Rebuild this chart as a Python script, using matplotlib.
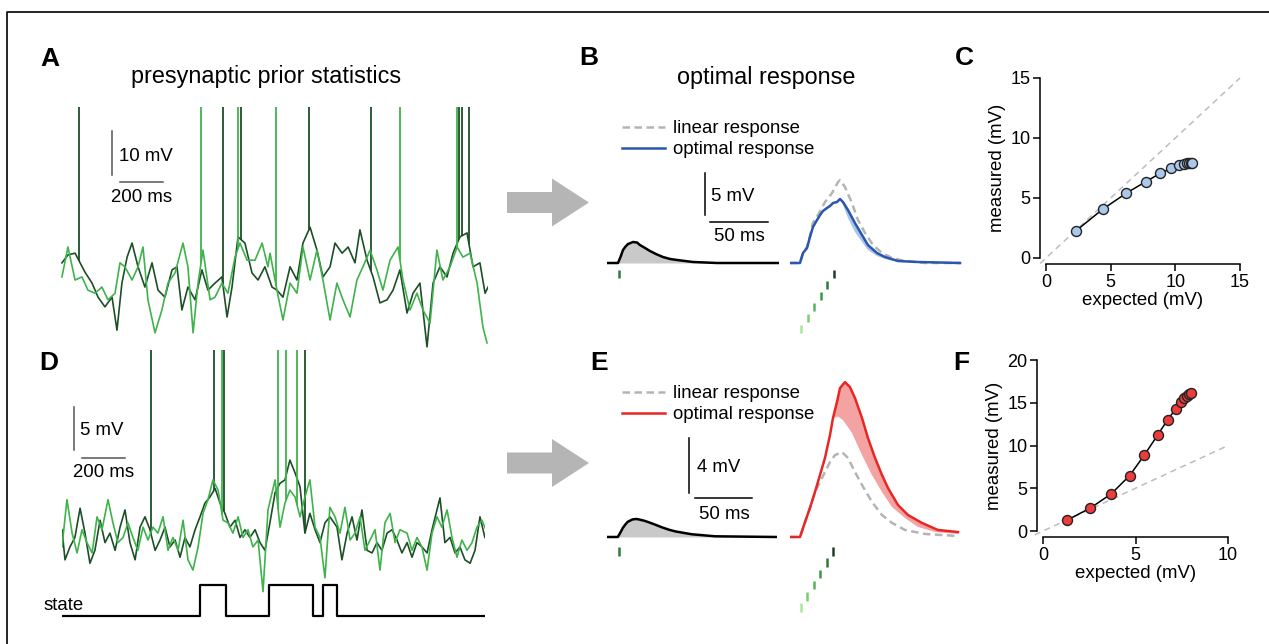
import numpy as np
import matplotlib.pyplot as plt
from matplotlib.patches import FancyArrow

plt.rcParams['font.family'] = ['Liberation Sans', 'DejaVu Sans']

# ---- data ----
# A: membrane potential (mV rel. rest) vs time (ms), two presynaptic cells
A_dark_t = [9, 37, 70, 116, 149, 177, 209, 242, 265, 288, 312, 335, 363, 395, 428, 456, 488, 521, 544, 567,
            595, 628, 660, 688, 721, 753, 777, 800, 828, 860, 893, 921, 953, 986, 1009, 1037, 1070, 1102, 1130, 1163,
            1195, 1223, 1256, 1279, 1312, 1340, 1372, 1395, 1428, 1456, 1488, 1521, 1549, 1581, 1614, 1642, 1674, 1707, 1735, 1767,
            1800, 1828, 1860, 1893, 1921, 1953, 1977, 1991]
A_dark_v = [3.9, 5.7, 6.1, 1.8, -0.7, -3.9, -6.1, -3.9, -11.4, -0.7, 5.2, 8.4, 3.0, -1.6, 3.9, -2.3, -3.9, 2.3, 3.0, -6.8,
            -1.6, -4.5, 2.3, -2.3, -0.7, 0.7, -8.4, -1.6, 9.8, 8.4, 1.6, 0, 3.0, -1.6, -2.3, -3.9, 3.0, 0, 8.4, 12.0,
            6.8, 0.7, 3.0, 8.4, 6.1, 7.5, 3.9, 11.4, 4.5, 0.7, -5.2, -4.5, -2.3, 2.3, -7.5, -3.0, -0.7, -15.2, -0.7, 3.0,
            0.7, 6.1, 9.8, 10.7, 3.0, 3.9, -3.0, -1.6]
A_light_t = [9, 37, 70, 102, 130, 163, 195, 223, 256, 279, 302, 335, 363, 386, 409, 442, 474, 502, 535, 572,
             595, 619, 642, 665, 698, 721, 753, 781, 814, 837, 870, 907, 940, 967, 977, 1009, 1037, 1070, 1102, 1130,
             1163, 1195, 1223, 1256, 1288, 1316, 1349, 1381, 1409, 1442, 1474, 1502, 1535, 1572, 1595, 1628, 1660, 1688, 1721, 1753,
             1781, 1814, 1847, 1874, 1907, 1940, 1967, 1986]
A_light_v = [0.7, 7.5, 0, 0.7, -2.3, -3.0, -1.6, -4.5, -3.0, 3.9, 3.0, 0, 3.0, 7.5, -4.5, -12.0, -6.8, -0.7, 1.6, 8.4,
             3.0, -12.0, -0.7, 6.8, -4.5, -3.9, -0.7, -3.0, 5.2, 8.4, 4.5, 4.5, 8.4, 3.0, 6.1, -2.3, -9.1, -0.7, -3.0, 7.5,
             0, 6.8, 0, -9.1, -0.7, -4.5, -8.4, 0, 3.0, 6.8, 2.3, -2.3, 4.5, 7.5, 0, -6.8, -3.0, -6.8, -9.8, 6.8,
             0, 3.0, 7.5, 5.2, 6.1, -0.7, -10.7, -14.3]
A_spk_dark = [88, 758, 842, 1158, 1446, 1856, 1870, 1902]
A_spk_light = [656, 828, 1005, 1581, 1846]

# D: same, with a hidden state switching
D_dark_t = [0, 14, 37, 60, 84, 107, 130, 153, 177, 200, 223, 247, 270, 293, 316, 340, 363, 386, 409, 433,
            456, 479, 502, 526, 549, 572, 595, 619, 642, 665, 688, 712, 735, 758, 781, 805, 828, 851, 874, 898,
            921, 944, 967, 991, 1014, 1037, 1060, 1084, 1107, 1130, 1153, 1177, 1200, 1223, 1246, 1279, 1302, 1326, 1349, 1372,
            1395, 1419, 1442, 1465, 1488, 1512, 1535, 1558, 1581, 1605, 1628, 1651, 1674, 1698, 1721, 1744, 1758, 1781, 1805, 1828,
            1851, 1874, 1898, 1921, 1944, 1967]
D_dark_v = [1.2, -2.3, -0.8, 0.3, 3.7, 0.8, -2.7, -1.2, 2.3, -0.3, 0.8, -1.2, 1.5, 3.5, -0.3, -2.3, 1.5, 2.7, 1.2, -1.2,
            0, 1.5, -0.8, 0, -2.0, 0.3, -0.8, 1.2, 2.7, 4.3, 5.0, 6.0, 4.3, 3.1, 1.5, 2.3, 0.3, 1.2, 0.3, 1.2,
            -0.3, -1.2, 2.0, 5.5, 6.6, 7.0, 9.3, 7.8, 6.2, 0.8, 3.1, 1.2, -0.3, 2.0, 2.7, 1.5, -2.3, 0.8, 2.7, 0,
            3.5, -1.2, -1.5, -0.3, -1.2, 0.8, 1.2, 0, -1.5, -0.3, -2.0, -0.3, -0.8, -1.5, 1.2, 3.5, 4.9, -0.3, 0.3, -1.5,
            -0.8, -2.3, -2.7, -1.2, 2.7, 0.3]
D_light_t = [0, 23, 47, 70, 93, 116, 140, 163, 186, 214, 237, 260, 284, 307, 330, 353, 377, 400, 423, 446,
             470, 493, 516, 540, 563, 586, 609, 633, 656, 679, 702, 726, 749, 772, 795, 819, 842, 865, 888, 912,
             935, 958, 991, 1014, 1037, 1060, 1084, 1107, 1130, 1153, 1177, 1200, 1223, 1246, 1270, 1293, 1316, 1340, 1363, 1386,
             1409, 1433, 1456, 1479, 1502, 1526, 1549, 1572, 1605, 1628, 1651, 1674, 1698, 1721, 1744, 1767, 1791, 1814, 1837, 1860,
             1884, 1907, 1930, 1953, 1972]
D_light_v = [-0.8, 4.7, 0.8, -1.5, 1.2, -0.3, -1.5, 2.7, 1.2, 4.7, 2.0, -0.3, 0.3, 2.0, 0.3, -1.2, 1.5, 0, 1.5, 0.8,
             2.7, -1.2, 0.3, -1.2, 2.3, -2.3, -3.5, -0.8, 3.1, 4.7, 7.0, 5.8, 2.3, 2.0, 0.8, 2.7, 0.3, 1.2, -0.8, 0,
             -6.0, 3.5, 7.0, 1.5, 4.3, 5.8, 5.0, 2.7, 5.0, 7.0, 1.5, 0.3, -4.4, 3.8, 2.7, 0.8, 3.8, 0, 0.8, 2.7,
             -1.2, 0, 1.2, -3.5, 2.0, 3.1, -0.3, 1.2, 0.8, -1.2, 0.3, -0.8, -3.5, 0.8, 2.7, 1.5, 3.5, 0.3, -2.0, 0,
             -1.2, -0.3, 1.5, 2.3, 1.2]
D_spk_dark = [414, 707, 753, 1130]
D_spk_light = [744, 1005, 1042, 1093]
state_t = [0, 642, 763, 963, 1167, 1214, 1279, 1967]
state_val = [0, 1, 0, 1, 0, 1, 0, 0]

# B / E: single PSP (ms, mV)
psp_t = [0, 9.5, 11.6, 13.8, 16, 18.1, 22.4, 25.9, 28.4, 32.8, 37, 42.2, 48.3, 54.3, 60.3, 74.1, 94.8, 148]
psp_B = [0, 0, 0.7, 1.55, 1.96, 2.26, 2.5, 2.44, 2.14, 1.79, 1.43, 1.07, 0.71, 0.48, 0.36, 0.12, 0, 0]
psp_E = [0, 0, 0.3, 0.65, 0.9, 1.1, 1.28, 1.31, 1.27, 1.18, 1.06, 0.9, 0.7, 0.53, 0.4, 0.2, 0.05, 0]
psp_spike = 10.3
stim_t = [9.5, 15.2, 20.9, 26.6, 32.3, 38.0]

# B: responses to a burst of 6 spikes
B_opt_t = [0, 8.6, 11.2, 14.7, 17.2, 19.8, 23.3, 25.9, 28.4, 31.9, 34.5, 37.1, 40.5, 43.1, 45.7, 50, 56, 62.1, 67.2, 75, 81.9, 93.1, 110.3, 146.6]
B_opt_v = [0, 0, 1.19, 1.79, 3.1, 4.29, 5.12, 5.71, 6.19, 6.55, 6.79, 7.14, 7.26, 7.62, 7.26, 6.31, 4.76, 3.33, 2.14, 1.19, 0.71, 0.24, 0.12, 0]
B_low_t = [43.1, 45.7, 50, 56, 62.1, 67.2, 75, 81.9, 93.1, 110.3, 146.6]
B_low_v = [7.62, 6.9, 5.36, 3.69, 2.5, 1.55, 0.83, 0.48, 0.12, 0.05, 0]
B_lin_t = [0, 8.6, 11.2, 14.7, 17.2, 19.8, 24.1, 30.2, 36.2, 41.4, 43.1, 47.4, 53.4, 58.6, 64.7, 71.6, 79.3, 87.9, 99.1, 116.4, 146.6]
B_lin_v = [0, 0, 1.19, 1.9, 3.2, 4.8, 5.71, 7.26, 8.33, 9.64, 9.88, 9.05, 7.14, 5.12, 3.57, 2.14, 1.19, 0.6, 0.24, 0, 0]

# E: responses with state switching prior
E_opt_t = [0, 8.8, 13.2, 17.5, 21.9, 26.3, 30.7, 35.1, 37.7, 41.2, 43.9, 48.2, 52.6, 57, 63.2, 68.4, 74.6, 80.7, 86, 94.7, 103.5, 115.8, 129.8, 147.4]
E_opt_v = [0, 0, 1.09, 2.11, 3.27, 4.51, 5.75, 7.42, 8.65, 9.82, 10.84, 11.27, 10.91, 10.11, 8.65, 7.2, 5.75, 4.51, 3.56, 2.33, 1.6, 1.02, 0.51, 0.36]
E_low_t = [37.7, 42.1, 46.5, 54.4, 63.2, 71.9, 80.7, 89.5, 100.9, 112.3, 127.2, 147.4]
E_low_v = [8.65, 8.76, 8.51, 7.56, 5.96, 4.51, 3.27, 2.18, 1.38, 0.73, 0.36, 0.22]
E_lin_t = [0, 8.8, 13.2, 17.5, 21.9, 26.3, 30.7, 35.1, 39.5, 45.6, 50.9, 57, 63.2, 71.9, 80.7, 89.5, 100.9, 118.4, 147.4]
E_lin_v = [0, 0, 1.09, 2.11, 3.27, 4.0, 4.73, 5.45, 5.96, 6.18, 5.75, 4.73, 3.78, 2.55, 1.6, 1.02, 0.51, 0.22, 0.07]

# C / F: measured vs expected peak (mV)
C_exp = [2.3, 4.38, 6.19, 7.71, 8.84, 9.69, 10.31, 10.67, 10.93, 11.08, 11.2, 11.28]
C_meas = [2.25, 4.06, 5.39, 6.36, 7.06, 7.47, 7.75, 7.83, 7.9, 7.92, 7.95, 7.95]
F_exp = [1.32, 2.56, 3.68, 4.68, 5.48, 6.2, 6.74, 7.17, 7.46, 7.64, 7.77, 7.89, 7.98]
F_meas = [1.29, 2.69, 4.33, 6.47, 8.89, 11.23, 13.02, 14.27, 15.05, 15.52, 15.83, 16.07, 16.18]

# ---- style ----
DARK = '#1d4f27'
LIGHT = '#3fb34b'
GRAY = '#b4b4b4'
BLUE = '#2a56b0'
LBLUE = '#a9c5e9'
RED = '#e82724'
PINK = '#f4a3a3'
PSPFILL = '#c9c9c9'
STIM_COLS = ['#1c3d26', '#2a7a3a', '#3a9a45', '#52b55a', '#7cce70', '#a8e69a']  # top (last) -> bottom (first)
TS = 13.4

W, H = 1269, 644
fig = plt.figure(figsize=(W / 100, H / 100), dpi=100)


def rect(x0, y0, x1, y1):
    return [x0 / W, 1 - y1 / H, (x1 - x0) / W, (y1 - y0) / H]


def ftext(x, y, s, **kw):
    fig.text(x / W, 1 - y / H, s, **kw)


# overlay for frame and arrows (pixel coords)
ov = fig.add_axes([0, 0, 1, 1])
ov.set_xlim(0, W)
ov.set_ylim(H, 0)
ov.axis('off')
ov.plot([7, 7, W], [H, 12, 12], color='k', lw=1.2)
for yc in (202.5, 463):
    ov.add_patch(FancyArrow(507, yc, 82, 0, width=21, head_width=48, head_length=37,
                            length_includes_head=True, color='#b5b5b5', lw=0))


def trace_panel(r, tmax, vlim, dt, dv, lt, lv, sd, sl, top):
    ax = fig.add_axes(r)
    ax.set_xlim(0, tmax)
    ax.set_ylim(*vlim)
    ax.axis('off')
    ax.plot(dt, dv, color=DARK, lw=1.2)
    ax.vlines(sd, np.interp(sd, dt, dv), top, color=DARK, lw=1.3)
    ax.plot(lt, lv, color=LIGHT, lw=1.2)
    ax.vlines(sl, np.interp(sl, lt, lv), top, color=LIGHT, lw=1.3)
    return ax


# A
axA = trace_panel(rect(60, 100, 488, 360), 1990.6, (-18.18, 40.91),
                  A_dark_t, A_dark_v, A_light_t, A_light_v, A_spk_dark, A_spk_light, 39.3)
axA.plot([242, 242], [23.9, 33.9], color='#555555', lw=1.1)
axA.plot([279, 479], [22.3, 22.3], color='#555555', lw=1.1)

# D
axD = trace_panel(rect(62, 340, 485, 625), 1967.4, (-9.88, 23.26),
                  D_dark_t, D_dark_v, D_light_t, D_light_v, D_spk_dark, D_spk_light, 22.1)
axD.plot([56, 56], [10.5, 15.5], color='#555555', lw=1.1)
axD.plot([93, 293], [9.5, 9.5], color='#555555', lw=1.1)
axD.step(state_t, -8.8 + 3.6 * np.array(state_val), where='post', color='k', lw=1.6)


def psp_axes(r, tmax, vlim, v, top, h):
    ax = fig.add_axes(r)
    ax.set_xlim(0, tmax)
    ax.set_ylim(*vlim)
    ax.axis('off')
    ax.fill_between(psp_t, v, color=PSPFILL, lw=0)
    ax.plot(psp_t, v, color='k', lw=1.8)
    ax.vlines(psp_spike, top - h, top, color='#2d7a3a', lw=1.8)
    return ax


def resp_axes(r, tmax, vlim, top, step, h):
    ax = fig.add_axes(r)
    ax.set_xlim(0, tmax)
    ax.set_ylim(*vlim)
    ax.axis('off')
    n = len(stim_t)
    for i, t in enumerate(stim_t):
        k = n - 1 - i
        ax.vlines(t, top - step * k - h, top - step * k, color=STIM_COLS[k], lw=1.8)
    return ax


def band(ax, ot, ov_, lt, lv, col):
    ot = np.array(ot)
    ov_ = np.array(ov_)
    m = ot >= lt[0]
    ax.fill(np.concatenate([ot[m], lt[::-1]]), np.concatenate([ov_[m], lv[::-1]]), color=col, lw=0)


# B
axB1 = psp_axes(rect(607, 165, 779, 340), 148.3, (-9.17, 11.67), psp_B, -0.83, 0.95)
axB1.plot([84.5, 84.5], [5.71, 10.71], color='k', lw=1.1)
axB1.plot([88.8, 138.8], [4.88, 4.88], color='k', lw=1.1)
axB2 = resp_axes(rect(790, 165, 962, 340), 148.3, (-9.17, 11.67), -0.83, 1.31, 0.95)
band(axB2, B_opt_t, B_opt_v, B_low_t, B_low_v, LBLUE)
axB2.plot(B_lin_t, B_lin_v, color=GRAY, lw=1.8, ls=(0, (3, 1.8)))
axB2.plot(B_opt_t, B_opt_v, color=BLUE, lw=1.8)

# E
axE1 = psp_axes(rect(607, 370, 779, 620), 150.9, (-6.04, 12.15), psp_E, -0.73, 0.62)
axE1.plot([71.9, 71.9], [3.2, 7.2], color='k', lw=1.1)
axE1.plot([77.2, 127.2], [2.84, 2.84], color='k', lw=1.1)
axE2 = resp_axes(rect(790, 370, 962, 620), 150.9, (-6.04, 12.15), -0.73, 0.82, 0.62)
band(axE2, E_opt_t, E_opt_v, E_low_t, E_low_v, PINK)
axE2.plot(E_lin_t, E_lin_v, color=GRAY, lw=1.8, ls=(0, (3, 1.8)))
axE2.plot(E_opt_t, E_opt_v, color=RED, lw=1.8)


def io_axes(r, xs, ys, xmax, ymax, xt, yt, col):
    ax = fig.add_axes(r)
    ax.set_xlim(0, xmax)
    ax.set_ylim(0, ymax)
    lim = min(xmax, ymax)
    ax.plot([-0.45, lim], [-0.45, lim], color='#bdbdbd', lw=1.1, ls=(0, (4, 3)), clip_on=False)
    ax.plot(xs, ys, '-o', color='k', lw=1.1, mfc=col, mec='#222222', mew=1.0, ms=7.2, clip_on=False)
    for s in ('top', 'right'):
        ax.spines[s].set_visible(False)
    for s in ('left', 'bottom'):
        ax.spines[s].set_position(('outward', 4.3))
        ax.spines[s].set_linewidth(1.1)
    ax.spines['left'].set_bounds(0, ymax)
    ax.spines['bottom'].set_bounds(0, xmax)
    ax.set_xticks(xt)
    ax.set_yticks(yt)
    ax.tick_params(direction='out', length=5, width=1.1, labelsize=13, pad=2)
    ax.set_xlabel('expected (mV)', fontsize=TS, labelpad=1)
    ax.set_ylabel('measured (mV)', fontsize=TS, labelpad=3)
    ax.patch.set_alpha(0)
    return ax


io_axes(rect(1046, 78, 1240, 258), C_exp, C_meas, 15, 15, [0, 5, 10, 15], [0, 5, 10, 15], '#a9c8ec')
io_axes(rect(1043, 360, 1228, 531), F_exp, F_meas, 10, 20, [0, 5, 10], [0, 5, 10, 15, 20], '#ee3b3b')

# ---- text ----
for x, y, s in [(50, 66, 'A'), (589, 65, 'B'), (964, 65, 'C'),
                (49, 370, 'D'), (599, 370, 'E'), (961, 370, 'F')]:
    ftext(x, y, s, fontsize=19, fontweight='bold', ha='center', va='baseline')
ftext(266, 83, 'presynaptic prior statistics', fontsize=16.8, ha='center', va='baseline')
ftext(766, 84, 'optimal response', fontsize=16.8, ha='center', va='baseline')

ftext(119, 161, '10 mV', fontsize=TS, va='baseline')
ftext(111, 202, '200 ms', fontsize=TS, va='baseline')
ftext(80, 435, '5 mV', fontsize=TS, va='baseline')
ftext(73, 477, '200 ms', fontsize=TS, va='baseline')
ftext(44, 610, 'state', fontsize=TS, va='baseline')
ftext(711, 201, '5 mV', fontsize=TS, va='baseline')
ftext(714, 241, '50 ms', fontsize=TS, va='baseline')
ftext(697, 472, '4 mV', fontsize=TS, va='baseline')
ftext(699, 519, '50 ms', fontsize=TS, va='baseline')

# legends for B and E
for y0, col in [(127, BLUE), (392, RED)]:
    ov.plot([622, 665], [y0, y0], color=GRAY, lw=1.8, ls=(0, (3, 1.8)))
    ov.plot([622, 665], [y0 + 21, y0 + 21], color=col, lw=1.8)
    ov.text(673, y0 + 6, 'linear response', fontsize=TS, va='baseline')
    ov.text(673, y0 + 27, 'optimal response', fontsize=TS, va='baseline')

fig.savefig('out.png', dpi=100)
